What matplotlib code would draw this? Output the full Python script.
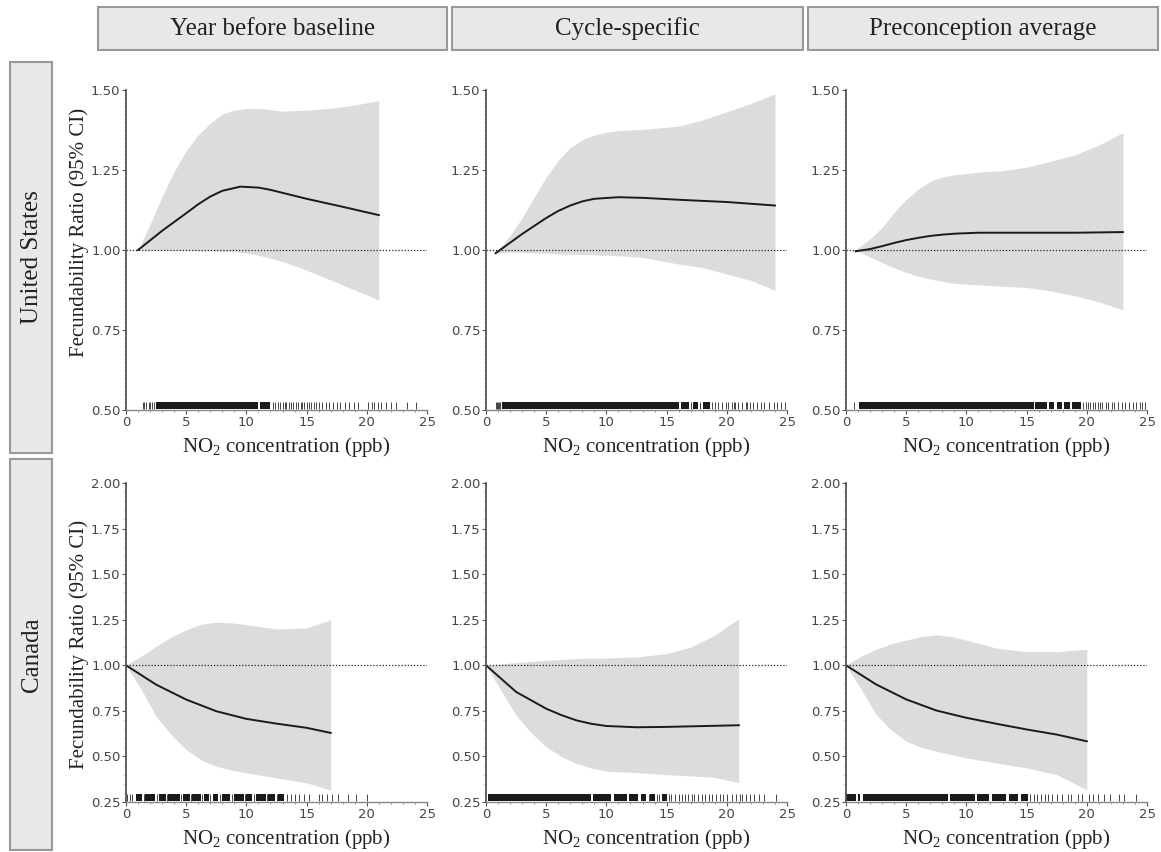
import numpy as np
import matplotlib
matplotlib.use("Agg")
import matplotlib.pyplot as plt
from matplotlib.patches import Rectangle

plt.rcParams["mathtext.fontset"] = "custom"
plt.rcParams["mathtext.rm"] = "Liberation Serif"
plt.rcParams["mathtext.it"] = "Liberation Serif:italic"

SERIF = "Liberation Serif"
BAND = "#dcdcdc"
SPINE = "#555555"

COL_TITLES = ["Year before baseline", "Cycle-specific", "Preconception average"]
ROW_TITLES = ["United States", "Canada"]
X_LABEL = r"NO$_2$ concentration (ppb)"
Y_LABEL = "Fecundability Ratio (95% CI)"

# ---- United States ----
us_year_x = [1, 3, 5, 6, 7, 8, 9.5, 11, 12, 15, 18, 21]
us_year_fr = [1.00, 1.06, 1.115, 1.143, 1.167, 1.185, 1.198, 1.195, 1.188, 1.16, 1.135, 1.109]
us_year_ci_x = [1, 2, 3, 4, 5, 6, 7, 8, 9, 10, 11, 13, 15, 17, 19, 21]
us_year_hi = [1.00, 1.08, 1.167, 1.245, 1.31, 1.36, 1.396, 1.425, 1.437, 1.442, 1.443,
              1.434, 1.437, 1.443, 1.453, 1.467]
us_year_lo = [1.00, 1.00, 0.999, 0.999, 0.998, 0.998, 0.997, 0.996, 0.995, 0.99, 0.984,
              0.964, 0.937, 0.906, 0.875, 0.844]

us_cyc_x = [0.8, 3, 5, 6, 7, 8, 9, 11, 13, 16, 20, 24]
us_cyc_fr = [0.99, 1.05, 1.10, 1.122, 1.139, 1.152, 1.16, 1.165, 1.163, 1.157, 1.15, 1.139]
us_cyc_ci_x = [0.8, 2, 3, 4, 5, 6, 7, 8, 9, 10, 11, 13, 16, 18, 20, 22, 24]
us_cyc_hi = [0.99, 1.045, 1.10, 1.165, 1.228, 1.28, 1.32, 1.345, 1.359, 1.368, 1.373,
             1.377, 1.387, 1.406, 1.432, 1.458, 1.488]
us_cyc_lo = [0.99, 0.994, 0.993, 0.991, 0.99, 0.988, 0.987, 0.986, 0.985, 0.984, 0.982,
             0.977, 0.956, 0.945, 0.925, 0.905, 0.874]

us_pre_x = [0.8, 2, 3, 4, 5, 6, 7, 8, 9, 11, 15, 19, 23]
us_pre_fr = [0.996, 1.003, 1.012, 1.022, 1.031, 1.038, 1.044, 1.048, 1.051, 1.054, 1.054,
             1.054, 1.056]
us_pre_ci_x = [0.8, 2, 3, 4, 5, 6, 7, 8, 9, 11, 13, 15, 17, 19, 21, 23]
us_pre_hi = [1.00, 1.035, 1.07, 1.118, 1.158, 1.19, 1.215, 1.228, 1.235, 1.243, 1.248,
             1.259, 1.277, 1.297, 1.328, 1.367]
us_pre_lo = [1.00, 0.978, 0.961, 0.944, 0.93, 0.918, 0.909, 0.902, 0.896, 0.891, 0.887,
             0.883, 0.872, 0.857, 0.838, 0.813]

# ---- Canada ----
ca_year_x = [0, 2.5, 5, 7.5, 10, 12.5, 15, 17]
ca_year_fr = [1.00, 0.894, 0.812, 0.748, 0.706, 0.68, 0.657, 0.629]
ca_year_ci_x = [0, 1.25, 2.5, 3.75, 5, 6.25, 7.5, 8.75, 10, 12.5, 15, 17]
ca_year_hi = [1.00, 1.05, 1.104, 1.155, 1.195, 1.225, 1.236, 1.233, 1.223, 1.199, 1.205, 1.25]
ca_year_lo = [1.00, 0.87, 0.72, 0.62, 0.537, 0.48, 0.446, 0.425, 0.41, 0.382, 0.355, 0.315]

ca_cyc_x = [0, 2.5, 5, 6.25, 7.5, 8.75, 10, 12.5, 15, 17, 19, 21]
ca_cyc_fr = [1.00, 0.854, 0.762, 0.727, 0.698, 0.679, 0.667, 0.66, 0.662, 0.665, 0.668, 0.671]
ca_cyc_ci_x = [0, 1.25, 2.5, 3.75, 5, 6.25, 7.5, 8.75, 10, 12.5, 15, 17, 19, 21]
ca_cyc_hi = [1.00, 1.008, 1.015, 1.021, 1.027, 1.032, 1.037, 1.039, 1.04, 1.046, 1.064,
             1.10, 1.165, 1.256]
ca_cyc_lo = [1.00, 0.86, 0.726, 0.63, 0.552, 0.50, 0.461, 0.436, 0.419, 0.411, 0.40,
             0.393, 0.385, 0.356]

ca_pre_x = [0, 2.5, 5, 7.5, 10, 12.5, 15, 17.5, 20]
ca_pre_fr = [1.00, 0.895, 0.813, 0.752, 0.712, 0.679, 0.648, 0.62, 0.583]
ca_pre_ci_x = [0, 1.25, 2.5, 3.75, 5, 6.25, 7.5, 8.75, 10, 12.5, 15, 17.5, 20]
ca_pre_hi = [1.00, 1.05, 1.088, 1.118, 1.138, 1.158, 1.167, 1.158, 1.138, 1.094, 1.075,
             1.075, 1.088]
ca_pre_lo = [1.00, 0.87, 0.73, 0.645, 0.583, 0.55, 0.528, 0.51, 0.492, 0.464, 0.437,
             0.40, 0.317]

# ---- rug plots: solid runs (start, end) and single ticks ----
us_year_rug_runs = [(2.5, 11.0), (11.1, 12.0)]
us_year_rug_ticks = [1.4, 1.5, 1.7, 1.9, 2.0, 2.2, 2.3, 12.2, 12.4, 12.6, 12.8, 13.0,
                     13.2, 13.3, 13.5, 13.7, 13.9, 14.1, 14.3, 14.5, 14.6, 14.8, 15.0,
                     15.2, 15.4, 15.6, 15.8, 16.0, 16.3, 16.6, 16.9, 17.2, 17.5, 17.8,
                     18.2, 18.5, 18.9, 19.3, 20.1, 20.4, 20.6, 20.9, 21.2, 21.6, 22.0,
                     22.4, 23.3, 24.1]
us_cyc_rug_runs = [(1.35, 16.0), (16.2, 16.9), (17.2, 17.6), (18.0, 18.6)]
us_cyc_rug_ticks = [0.8, 0.9, 1.0, 1.1, 1.2, 17.0, 17.8, 18.8, 19.0, 19.3, 19.6, 19.9,
                    20.1, 20.4, 20.6, 20.7, 20.9, 21.3, 21.6, 21.7, 21.9, 22.2, 22.5,
                    22.8, 23.1, 23.5, 23.9, 24.2, 24.5, 24.8]
us_pre_rug_runs = [(1.1, 15.6), (15.7, 16.7), (16.9, 17.3), (17.5, 17.9), (18.1, 18.6),
                   (18.8, 19.5)]
us_pre_rug_ticks = [0.7, 19.7, 19.9, 20.1, 20.3, 20.5, 20.7, 20.9, 21.1, 21.3, 21.6,
                    21.8, 22.1, 22.3, 22.6, 22.9, 23.2, 23.5, 23.8, 24.1, 24.4, 24.6, 24.8]
ca_year_rug_runs = [(0.8, 1.3), (1.6, 2.4), (2.7, 3.3), (3.5, 4.5), (4.7, 5.3),
                    (5.5, 6.2), (6.5, 6.9), (7.2, 7.6), (8.0, 8.6), (9.0, 9.8),
                    (10.0, 10.5), (10.8, 11.6), (11.8, 12.4), (12.6, 13.1)]
ca_year_rug_ticks = [0.1, 0.3, 0.5, 1.5, 2.55, 3.4, 4.6, 5.4, 6.35, 7.0, 7.8, 8.8,
                     9.9, 10.65, 11.7, 12.5, 13.4, 13.7, 14.0, 14.4, 14.8, 15.2, 16.0,
                     16.3, 16.7, 17.1, 17.6, 18.4, 19.1, 20.0]
ca_cyc_rug_runs = [(0.15, 8.7), (8.9, 10.4), (10.6, 11.7), (11.9, 12.6), (12.9, 13.3),
                   (13.6, 14.0), (14.6, 15.0)]
ca_cyc_rug_ticks = [13.5, 14.2, 14.4, 15.2, 15.4, 15.7, 16.0, 16.3, 16.5, 16.8, 17.1,
                    17.3, 17.6, 17.9, 18.2, 18.5, 18.8, 19.1, 19.4, 19.7, 20.0, 20.4,
                    20.8, 21.1, 21.3, 21.6, 21.9, 22.3, 22.7, 23.1, 24.1]
ca_pre_rug_runs = [(0.0, 0.8), (1.0, 1.2), (1.4, 8.45), (8.6, 10.7), (10.9, 11.9),
                   (12.1, 13.3), (13.5, 14.3), (14.5, 15.1)]
ca_pre_rug_ticks = [15.3, 15.6, 15.9, 16.2, 16.5, 16.8, 17.1, 17.5, 17.9, 18.4, 18.7,
                    19.3, 19.6, 20.2, 20.5, 20.9, 21.4, 21.9, 22.7, 23.1, 24.1]

PANELS = [
    [(us_year_x, us_year_fr, us_year_ci_x, us_year_hi, us_year_lo, us_year_rug_runs, us_year_rug_ticks),
     (us_cyc_x, us_cyc_fr, us_cyc_ci_x, us_cyc_hi, us_cyc_lo, us_cyc_rug_runs, us_cyc_rug_ticks),
     (us_pre_x, us_pre_fr, us_pre_ci_x, us_pre_hi, us_pre_lo, us_pre_rug_runs, us_pre_rug_ticks)],
    [(ca_year_x, ca_year_fr, ca_year_ci_x, ca_year_hi, ca_year_lo, ca_year_rug_runs, ca_year_rug_ticks),
     (ca_cyc_x, ca_cyc_fr, ca_cyc_ci_x, ca_cyc_hi, ca_cyc_lo, ca_cyc_rug_runs, ca_cyc_rug_ticks),
     (ca_pre_x, ca_pre_fr, ca_pre_ci_x, ca_pre_hi, ca_pre_lo, ca_pre_rug_runs, ca_pre_rug_ticks)],
]
ROW_YLIM = [(0.5, 1.5), (0.25, 2.0)]
ROW_YTICKS = [[0.5, 0.75, 1.0, 1.25, 1.5], [0.25, 0.5, 0.75, 1.0, 1.25, 1.5, 1.75, 2.0]]

W, H = 1161, 852
fig = plt.figure(figsize=(W / 100, H / 100), dpi=100)


def px_box(x0, y0, x1, y1):
    # pixel box (top-left origin) -> figure fraction rect
    return [x0 / W, 1 - y1 / H, (x1 - x0) / W, (y1 - y0) / H]


col_left = [126, 486, 846]
ax_w = 301
row_top = [90, 483]
row_bot = [410, 802]

# column strips
strip_x = [(98, 447), (452, 803), (808, 1158)]
for (x0, x1), title in zip(strip_x, COL_TITLES):
    fig.patches.append(Rectangle((x0 / W, 1 - 50 / H), (x1 - x0) / W, 43 / H,
                                 transform=fig.transFigure, facecolor="#e8e8e8",
                                 edgecolor="#999999", lw=1.5))
    fig.text((x0 + x1) / 2 / W, 1 - 29 / H, title, ha="center", va="center",
             family=SERIF, fontsize=18, color="#222222")

# row strips
strip_y = [(62, 453), (459, 850)]
for (y0, y1), title in zip(strip_y, ROW_TITLES):
    fig.patches.append(Rectangle((10 / W, 1 - y1 / H), 42 / W, (y1 - y0) / H,
                                 transform=fig.transFigure, facecolor="#e8e8e8",
                                 edgecolor="#999999", lw=1.5))
    fig.text(32 / W, 1 - (y0 + y1) / 2 / H, title, ha="center", va="center",
             rotation=90, family=SERIF, fontsize=18, color="#222222")

for r in range(2):
    ylo, yhi = ROW_YLIM[r]
    rug_h = 0.022 if r == 0 else 0.038
    for c in range(3):
        x, fr, cx, hi, lo, runs, ticks = PANELS[r][c]
        ax = fig.add_axes(px_box(col_left[c], row_top[r], col_left[c] + ax_w, row_bot[r]))
        ax.fill_between(cx, lo, hi, color=BAND, lw=0)
        ax.plot(x, fr, color="#1a1a1a", lw=1.4, solid_joinstyle="round")
        ax.axhline(1.0, color="#222222", lw=0.9, ls=(0, (1, 1.5)))

        base = ylo + rug_h * 0.15
        ax.broken_barh([(a, b - a) for a, b in runs], (base, rug_h), color="#1a1a1a", lw=0)
        ax.vlines(ticks, base, base + rug_h, color="#444444", lw=0.7)

        ax.set_xlim(0, 25)
        ax.set_ylim(ylo, yhi)
        ax.set_xticks([0, 5, 10, 15, 20, 25])
        ax.set_yticks(ROW_YTICKS[r])
        ax.set_yticklabels([f"{v:.2f}" for v in ROW_YTICKS[r]])
        ax.set_xticks(np.arange(0, 25.1, 1), minor=True)
        ax.set_yticks(np.arange(ylo, yhi + 0.001, 0.025 if r == 0 else 0.05), minor=True)
        ax.tick_params(which="major", length=3, width=0.8, color=SPINE,
                       labelsize=9.5, labelcolor="#444444", pad=1)
        ax.tick_params(which="minor", length=1.5, width=0.6, color="#888888")
        for s in ["top", "right"]:
            ax.spines[s].set_visible(False)
        ax.spines["left"].set_color(SPINE)
        ax.spines["bottom"].set_color("#888888")
        ax.spines["left"].set_linewidth(1.3)
        ax.spines["bottom"].set_linewidth(1.0)
        ax.patch.set_alpha(0)

        fig.text((col_left[c] + ax_w / 2 + 10) / W, 1 - (row_bot[r] + 37) / H, X_LABEL,
                 ha="center", va="center", family=SERIF, fontsize=15, color="#222222")

fig.text(79 / W, 1 - 232 / H, Y_LABEL, ha="center", va="center", rotation=90,
         family=SERIF, fontsize=15, color="#222222")
fig.text(79 / W, 1 - 644 / H, Y_LABEL, ha="center", va="center", rotation=90,
         family=SERIF, fontsize=15, color="#222222")

fig.savefig("out.png", dpi=100, facecolor="white")
